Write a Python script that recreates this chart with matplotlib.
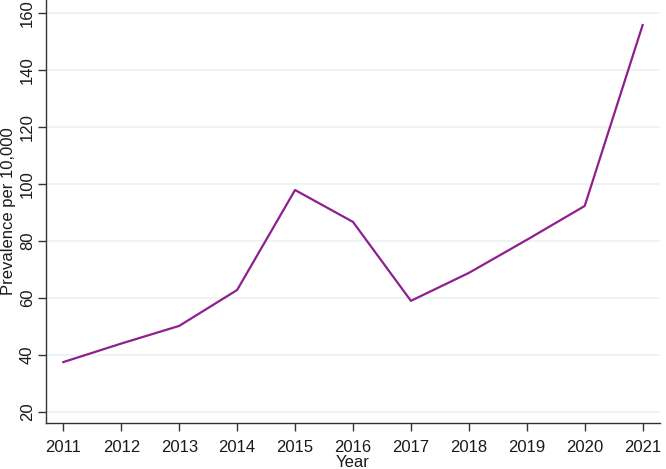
import matplotlib.pyplot as plt

plt.rcParams['font.family'] = ['Liberation Sans', 'DejaVu Sans']

# prevalence per 10,000 by year
years = [2011, 2012, 2013, 2014, 2015, 2016, 2017, 2018, 2019, 2020, 2021]
prevalence = [37.5, 44.0, 50.2, 62.8, 97.9, 86.7, 59.0, 68.8, 80.4, 92.3, 155.8]
yticks = [20, 40, 60, 80, 100, 120, 140, 160]

fig = plt.figure(figsize=(6.66, 4.69), dpi=100)
ax = fig.add_axes([0.069, 0.098, 0.922, 0.902])

ax.plot(years, prevalence, color='#8E1F8F', linewidth=1.6)

ax.set_xlim(2010.70, 2021.3)
ax.set_ylim(16.1, 164.6)
ax.set_xticks(years)
ax.set_yticks(yticks)
ax.grid(axis='y', color='#EAF2F3', linewidth=1.2)
ax.set_axisbelow(True)

for s in ['top', 'right']:
    ax.spines[s].set_visible(False)
for s in ['left', 'bottom']:
    ax.spines[s].set_color('#333333')
    ax.spines[s].set_linewidth(1.0)

ax.tick_params(axis='both', colors='#333333', length=6, width=1.0, labelsize=12,
               labelcolor='#1a1a1a')
ax.tick_params(axis='x', pad=6)
ax.tick_params(axis='y', pad=2)
for lab in ax.get_yticklabels():
    lab.set_rotation(90)
    lab.set_va('center')

ax.set_xlabel('Year', fontsize=12, labelpad=0, color='#1a1a1a')
ax.set_ylabel('Prevalence per 10,000', fontsize=12, labelpad=3, color='#1a1a1a')

fig.savefig('out.png', dpi=100)
